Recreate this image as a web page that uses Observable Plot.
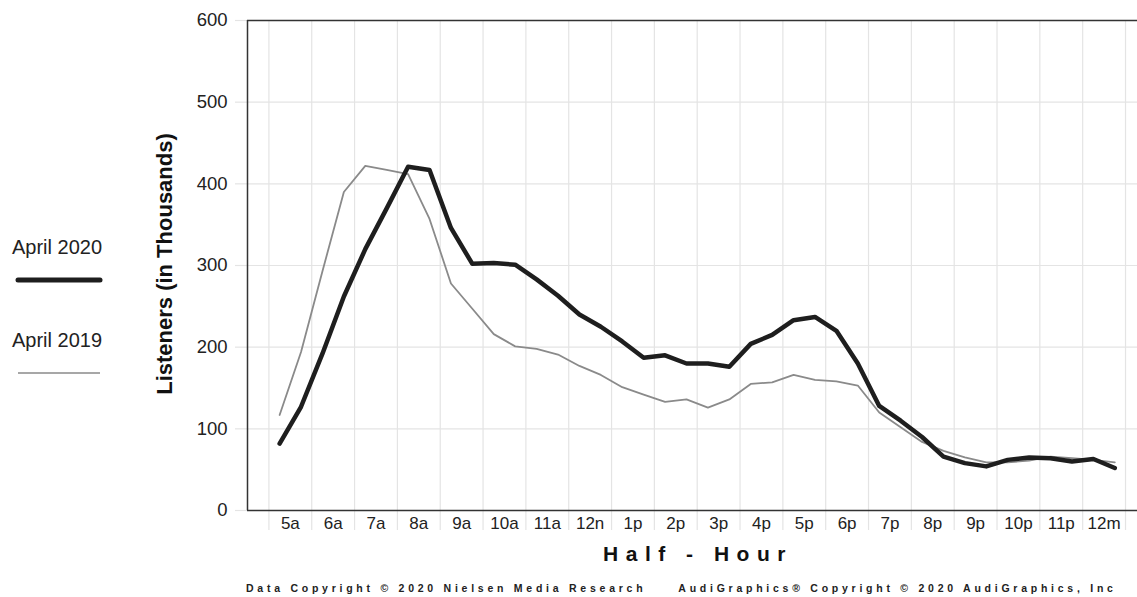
<!DOCTYPE html>
<html>
<head>
<meta charset="utf-8">
<script src="https://cdn.jsdelivr.net/npm/d3@7"></script>
<script src="https://cdn.jsdelivr.net/npm/@observablehq/plot@0.6"></script>
<style>
  html, body { margin: 0; padding: 0; background: #fff; overflow: hidden; }
  #wrap { position: relative; width: 1137px; height: 597px; overflow: hidden; font-family: "Liberation Sans", Arial, sans-serif; color: #222; }
  #chart { position: absolute; left: 0; top: 0; }
  .abs { position: absolute; white-space: nowrap; }
  .legtext { font-size: 20px; color: #222; }
  #ytitle { left: 165px; top: 264px; transform: translate(-50%, -50%) rotate(-90deg); font-weight: bold; font-size: 22px; color: #111; }
  #xtitle { left: 698px; top: 542px; transform: translateX(-50%); font-weight: bold; font-size: 21px; letter-spacing: 7.5px; color: #111; }
  #footer { left: 246px; top: 582px; font-size: 10.5px; letter-spacing: 3.75px; color: #222; font-weight: bold; }
</style>
</head>
<body>
<div id="wrap">
  <div id="chart"></div>
  <div class="abs legtext" style="left:12px; top:236px;">April 2020</div>
  <svg class="abs" style="left:0; top:270px;" width="120" height="20"><line x1="18" x2="100" y1="10" y2="10" stroke="#1e1e1e" stroke-width="5" stroke-linecap="round"/></svg>
  <div class="abs legtext" style="left:12px; top:329px;">April 2019</div>
  <svg class="abs" style="left:0; top:363px;" width="120" height="20"><line x1="18" x2="100" y1="10" y2="10" stroke="#8a8a8a" stroke-width="1.5"/></svg>
  <div class="abs" id="ytitle">Listeners (in Thousands)</div>
  <div class="abs" id="xtitle">Half - Hour</div>
  <div class="abs" id="footer">Data Copyright © 2020 Nielsen Media Research<span style="display:inline-block;width:32px"></span>AudiGraphics® Copyright © 2020 AudiGraphics, Inc</div>
</div>
<script>
// Hour labels (each hour holds two half-hour points)
const hourLabels = ["5a","6a","7a","8a","9a","10a","11a","12n","1p","2p","3p","4p","5p","6p","7p","8p","9p","10p","11p","12m"];
// Listeners (thousands), half-hours from 5:00a to 12:30m
const april2020 = [82,127, 192,262, 320,370, 421,417, 346,302, 303,301, 283,263, 240,225, 207,187, 190,180,
                   180,176, 204,215, 233,237, 220,180, 128,110, 90,66, 58,54, 62,65, 64,60, 63,52];
const april2019 = [117,194, 293,390, 422,417, 412,357, 278,247, 216,201, 198,191, 177,166, 151,142, 133,136,
                   126,136, 155,157, 166,160, 158,153, 120,102, 84,73, 65,59, 59,61, 66,64, 62,59];
const yTicks = [0,100,200,300,400,500,600];

const firstHour = 5;
const toRows = arr => arr.map((v, i) => ({h: firstHour + 0.25 + 0.5 * i, v}));
const hours = hourLabels.map((label, i) => ({label, mid: firstHour + 0.5 + i}));
const hourEdges = hourLabels.map((_, i) => firstHour + i).concat([firstHour + hourLabels.length]);

const plot = Plot.plot({
  width: 1137,
  height: 597,
  marginLeft: 247,
  marginRight: 0,
  marginTop: 20,
  marginBottom: 87,
  style: {fontFamily: "'Liberation Sans', Arial, sans-serif", background: "#fff", color: "#222"},
  x: {type: "linear", domain: [4.5, 25.28]},
  y: {domain: [0, 600]},
  marks: [
    Plot.gridY(yTicks, {stroke: "#e4e4e4", strokeOpacity: 1, strokeWidth: 1.2}),
    Plot.gridX(hourEdges, {stroke: "#e4e4e4", strokeOpacity: 1, strokeWidth: 1.2}),
    Plot.axisY(yTicks, {tickSize: 12, tickPadding: 8, fontSize: 18.5, label: null}),
    Plot.axisX(hourEdges, {tickSize: 20, tickFormat: () => "", label: null}),
    Plot.text(hours, {x: "mid", y: 0, text: "label", dy: 13, fontSize: 17, fill: "#222", textAnchor: "middle"}),
    Plot.ruleX([4.5], {y1: 0, y2: 600, stroke: "#333", strokeWidth: 1.5}),
    Plot.ruleY([0, 600], {stroke: "#333", strokeWidth: 1.5}),
    Plot.line(toRows(april2019), {x: "h", y: "v", stroke: "#8a8a8a", strokeWidth: 1.8}),
    Plot.line(toRows(april2020), {x: "h", y: "v", stroke: "#1e1e1e", strokeWidth: 4.5, strokeLinejoin: "round", strokeLinecap: "round"})
  ]
});
document.getElementById("chart").appendChild(plot);
// tick lines light grey, labels dark
d3.select(plot).selectAll('[aria-label="y-axis tick"] path, [aria-label="x-axis tick"] path').attr("stroke", "#e4e4e4").attr("stroke-width", 1.2);
d3.select(plot).selectAll('[aria-label="y-axis tick"], [aria-label="x-axis tick"]').attr("stroke", "#e4e4e4");
d3.select(plot).selectAll('[aria-label="y-axis tick label"]').attr("fill", "#222");
</script>
</body>
</html>
